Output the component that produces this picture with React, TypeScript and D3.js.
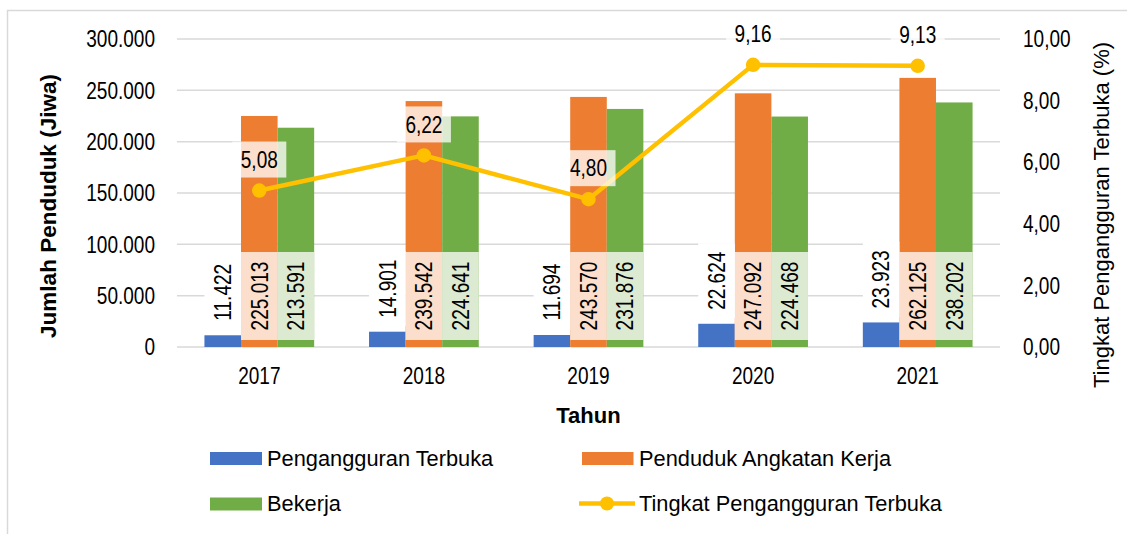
import React from 'react';
import * as d3 from 'd3';

const years = ['2017', '2018', '2019', '2020', '2021'];
const penganggur = [11422, 14901, 11694, 22624, 23923];
const angkatanKerja = [225013, 239542, 243570, 247092, 262125];
const bekerja = [213591, 224641, 231876, 224468, 238202];
const tpt = [5.08, 6.22, 4.8, 9.16, 9.13];
const leftTicks = [0, 50000, 100000, 150000, 200000, 250000, 300000];
const rightTicks = [0, 2, 4, 6, 8, 10];

const W = 1127;
const H = 534;
const TXT = "'Liberation Sans', Arial, sans-serif";
const BLUE = '#4472C4';
const ORANGE = '#ED7D31';
const GREEN = '#70AD47';
const GOLD = '#FFC000';
const GRID = '#D9D9D9';
const NARROW = 0.81;
const FS = 23.5;

const loc = d3.formatLocale({ decimal: ',', thousands: '.', grouping: [3], currency: ['', ''] });
const fmtInt = loc.format(',');
const fmtDec = loc.format(',.2f');

const textLen = (s: string, fs: number) =>
  s.split('').reduce((a, c) => a + (c === '.' || c === ',' ? 0.278 : 0.556), 0) * fs * NARROW;

function Num(props: { x: number; y: number; rot?: number; anchor?: string; children: string }) {
  const { x, y, rot = 0, anchor = 'middle', children } = props;
  return (
    <text
      transform={`translate(${x},${y}) rotate(${rot}) scale(${NARROW},1)`}
      dy="0.35em"
      textAnchor={anchor}
      fontFamily={TXT}
      fontSize={FS}
      fill="#000"
    >
      {children}
    </text>
  );
}

export default function App() {
  const x = d3.scaleBand<string>().domain(years).range([177, 1000]).paddingInner(0).paddingOuter(0);
  const xs = d3.scaleBand<string>().domain(['a', 'b', 'c']).range([0, x.bandwidth()]).paddingInner(0).paddingOuter(0.75);
  const yL = d3.scaleLinear().domain([0, 300000]).range([347, 39]);
  const yR = d3.scaleLinear().domain([0, 10]).range([347, 39]);
  const bw = xs.bandwidth();

  const series = [
    { key: 'a', vals: penganggur, color: BLUE, tint: '#FFFFFF' },
    { key: 'b', vals: angkatanKerja, color: ORANGE, tint: 'rgba(255,255,255,0.75)' },
    { key: 'c', vals: bekerja, color: GREEN, tint: 'rgba(255,255,255,0.75)' },
  ];

  const cxOf = (i: number) => (x(years[i]) as number) + x.bandwidth() / 2;
  const line = d3
    .line<number>()
    .x((_, i) => cxOf(i))
    .y((d) => yR(d));

  return (
    <svg width={W} height={H} style={{ position: 'absolute', left: 0, top: 0, background: '#fff' }}>
      <rect x={7.5} y={10.5} width={W + 10} height={H + 10} fill="#fff" stroke={GRID} strokeWidth={1.5} />
      {leftTicks.map((t) => (
        <line key={t} x1={177} x2={1000} y1={yL(t)} y2={yL(t)} stroke={GRID} strokeWidth={1.5} />
      ))}
      {leftTicks.map((t) => (
        <Num key={'l' + t} x={155} y={yL(t)} anchor="end">
          {fmtInt(t)}
        </Num>
      ))}
      {rightTicks.map((t) => (
        <Num key={'r' + t} x={1023} y={yR(t)} anchor="start">
          {fmtDec(t)}
        </Num>
      ))}
      {years.map((yv, i) => (
        <Num key={'x' + yv} x={cxOf(i)} y={376}>
          {yv}
        </Num>
      ))}
      {series.map((s) =>
        s.vals.map((v, i) => {
          const bx = (x(years[i]) as number) + (xs(s.key) as number);
          return <rect key={s.key + i} x={bx} y={yL(v)} width={bw} height={yL(0) - yL(v)} fill={s.color} />;
        })
      )}
      {series.map((s) =>
        s.vals.map((v, i) => {
          const bx = (x(years[i]) as number) + (xs(s.key) as number);
          const cx = bx + bw / 2;
          const label = fmtInt(v);
          const tl = textLen(label, FS);
          let cy: number;
          let bh: number;
          if (s.key === 'a') {
            bh = tl + 17;
            cy = yL(v) - 43;
          } else {
            bh = 88;
            cy = yL(0) - 7 - bh / 2;
          }
          return (
            <g key={'lb' + s.key + i}>
              <rect x={bx} y={cy - bh / 2} width={bw} height={bh} fill={s.tint} />
              <Num x={cx} y={cy} rot={-90}>
                {label}
              </Num>
            </g>
          );
        })
      )}
      <path d={line(tpt) || ''} fill="none" stroke={GOLD} strokeWidth={4.5} strokeLinejoin="round" />
      {tpt.map((v, i) => (
        <circle key={'m' + i} cx={cxOf(i)} cy={yR(v)} r={6.5} fill={GOLD} stroke={GOLD} strokeWidth={1.5} />
      ))}
      {tpt.map((v, i) => {
        const cx = cxOf(i);
        const cy = yR(v) - 31;
        const label = fmtDec(v);
        const bwid = textLen(label, FS) + 17;
        return (
          <g key={'tl' + i}>
            <rect x={cx - bwid / 2} y={cy - 18} width={bwid} height={36} fill="rgba(255,255,255,0.75)" />
            <Num x={cx} y={cy}>
              {label}
            </Num>
          </g>
        );
      })}
      <text transform="translate(48,206) rotate(-90)" dy="0.35em" textAnchor="middle" fontFamily={TXT} fontWeight="bold" fontSize={22.5} fill="#000">
        Jumlah Penduduk (Jiwa)
      </text>
      <text transform="translate(1101,215) rotate(-90)" dy="0.35em" textAnchor="middle" fontFamily={TXT} fontSize={22} fill="#000">
        Tingkat Pengangguran Terbuka (%)
      </text>
      <text x={588.5} y={423} textAnchor="middle" fontFamily={TXT} fontWeight="bold" fontSize={22} fill="#000">
        Tahun
      </text>
      <g fontFamily={TXT} fontSize={21.8} fill="#000">
        <rect x={210} y={452} width={52} height={13} fill={BLUE} />
        <text x={267} y={458.5} dy="0.35em">Pengangguran Terbuka</text>
        <rect x={582} y={452} width={51.5} height={13} fill={ORANGE} />
        <text x={639} y={458.5} dy="0.35em">Penduduk Angkatan Kerja</text>
        <rect x={210} y={497.5} width={52} height={13} fill={GREEN} />
        <text x={267} y={503.5} dy="0.35em">Bekerja</text>
        <line x1={579} x2={635} y1={503.5} y2={503.5} stroke={GOLD} strokeWidth={4.5} />
        <circle cx={607} cy={503.5} r={7} fill={GOLD} />
        <text x={639} y={503.5} dy="0.35em">Tingkat Pengangguran Terbuka</text>
      </g>
    </svg>
  );
}
